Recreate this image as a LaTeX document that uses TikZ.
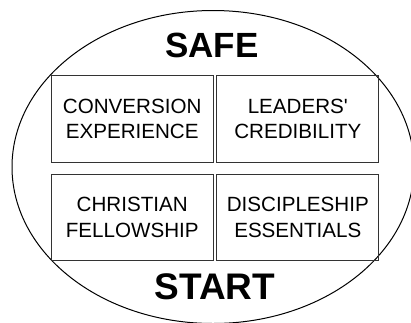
\documentclass[tikz,border=0pt]{standalone}
\usepackage{fontspec}
\setmainfont{Liberation Sans}
\tikzset{
  cell/.style={draw=black!80, line width=1.3pt, minimum width=162pt, minimum height=87pt, align=center, inner sep=0pt, font=\fontsize{20.6}{25.5}\selectfont},
  title/.style={font=\bfseries\fontsize{35}{35}\selectfont, inner sep=0pt, anchor=base}
}
\begin{document}
\begin{tikzpicture}[x=1pt,y=-1pt]
	\useasboundingbox (0,0) rectangle (411,322);
	\clip (0,0) rectangle (411,322);
	\draw[line width=1pt] (213,167) ellipse [x radius=201, y radius=156.5];
	\node[cell] (conv) at (132.2,118.7) {CONVERSION\\EXPERIENCE};
	\node[cell] (lead) at (297.8,118.7) {LEADERS\textquotesingle\\CREDIBILITY};
	\node[cell, minimum height=86.4pt] (chri) at (132.2,217.5) {CHRISTIAN\\FELLOWSHIP};
	\node[cell, minimum height=86.4pt] (disc) at (297.8,217.5) {DISCIPLESHIP\\ESSENTIALS};
	\node[title] (safe) at (212,57) {SAFE};
	\node[title, font=\bfseries\fontsize{37}{37}\selectfont] (start) at (215,299) {START};
\end{tikzpicture}
\end{document}
